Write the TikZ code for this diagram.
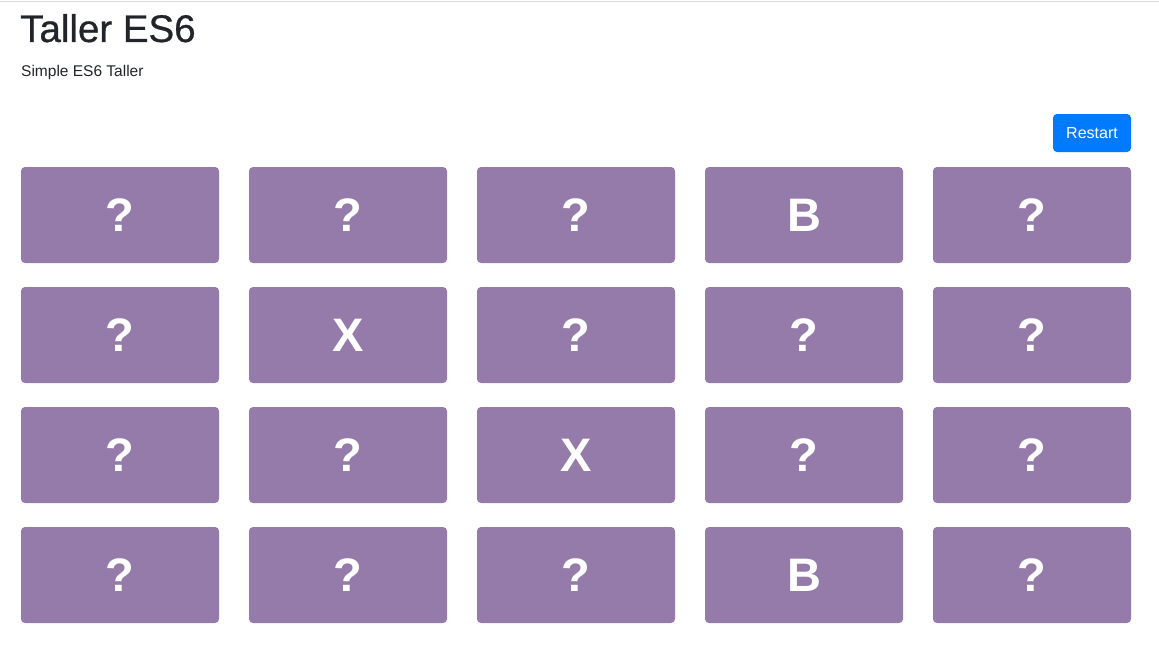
\documentclass[tikz,border=0pt]{standalone}
\usepackage{fontspec}
\setmainfont{Liberation Sans}
\newfontfamily\headfont[FakeBold=0.7]{Liberation Sans}
\usepackage{xcolor}
\usetikzlibrary{positioning}

\definecolor{cardpurple}{RGB}{149,123,170}
\definecolor{btnblue}{RGB}{0,123,255}
\definecolor{textdark}{RGB}{33,37,41}

\tikzset{
  card/.style={fill=cardpurple, rounded corners=4pt, inner sep=0pt, minimum width=198pt, minimum height=96pt, text=white, font=\fontsize{47}{47}\selectfont\bfseries},
  btn/.style={fill=btnblue, rounded corners=4pt, inner sep=0pt, minimum width=78pt, minimum height=38pt, text=white, font=\fontsize{16}{16}\selectfont}
}

\begin{document}
\begin{tikzpicture}[x=1pt,y=-1pt]
\useasboundingbox[fill=white] (0,0) rectangle (1159,661);
\draw[gray!30, line width=1.5pt] (0,1.5) -- (1159,1.5);

% Heading
\node[anchor=base west, inner sep=0pt, text=textdark, font=\headfont\fontsize{38.5}{38.5}\selectfont] (title) at (20,42) {Taller ES6};
\node[anchor=base west, inner sep=0pt, text=textdark, font=\fontsize{15.5}{15.5}\selectfont] (subtitle) at (21,77) {Simple ES6 Taller};

% Restart button
\node[btn] (restart) at (1092,133) {Restart};

% Draw the 20 cards, row by row
\foreach \i/\x/\t in {1/120/?, 2/348/?, 3/576/?, 4/804/B, 5/1032/?} {
    \node[card] (r1c\i) at (\x,215) {\t};
}
\foreach \i/\x/\t in {1/120/?, 2/348/X, 3/576/?, 4/804/?, 5/1032/?} {
    \node[card] (r2c\i) at (\x,335) {\t};
}
\foreach \i/\x/\t in {1/120/?, 2/348/?, 3/576/X, 4/804/?, 5/1032/?} {
    \node[card] (r3c\i) at (\x,455) {\t};
}
\foreach \i/\x/\t in {1/120/?, 2/348/?, 3/576/?, 4/804/B, 5/1032/?} {
    \node[card] (r4c\i) at (\x,575) {\t};
}

\end{tikzpicture}
\end{document}
